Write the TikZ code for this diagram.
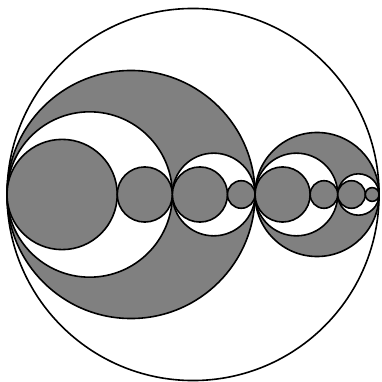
\documentclass[tikz,border=0pt]{standalone}
\definecolor{chainGray}{HTML}{808080}
\tikzset{
  % Filled disc and empty disc, same outline.
  chain/disc/.style={draw=black, fill=chainGray, line width=1.6pt},
  chain/hole/.style={draw=black, fill=white, line width=1.6pt},
}
% A circle on the axis, given by its left edge and diameter.
\newcommand{\axiscircle}[3]{\draw[#1] ({#2+#3/2},0) circle[radius={#3/2}];}

\begin{document}
\begin{tikzpicture}[x=13.78pt,y=13.78pt]
  \useasboundingbox (-7pt,-187.5pt) rectangle (374pt,194.5pt);
  \axiscircle{chain/hole}{0}{27}
  % thirds of the outer circle
  \foreach \l/\d in {0/18,18/9}{\axiscircle{chain/disc}{\l}{\d}}
  % thirds of each gray disc
  \foreach \l/\d in {0/12,12/6,18/6,24/3}{\axiscircle{chain/hole}{\l}{\d}}
  % thirds of each white disc
  \foreach \l/\d in {0/8,8/4,12/4,16/2,18/4,22/2,24/2,26/1}{\axiscircle{chain/disc}{\l}{\d}}
\end{tikzpicture}
\end{document}
